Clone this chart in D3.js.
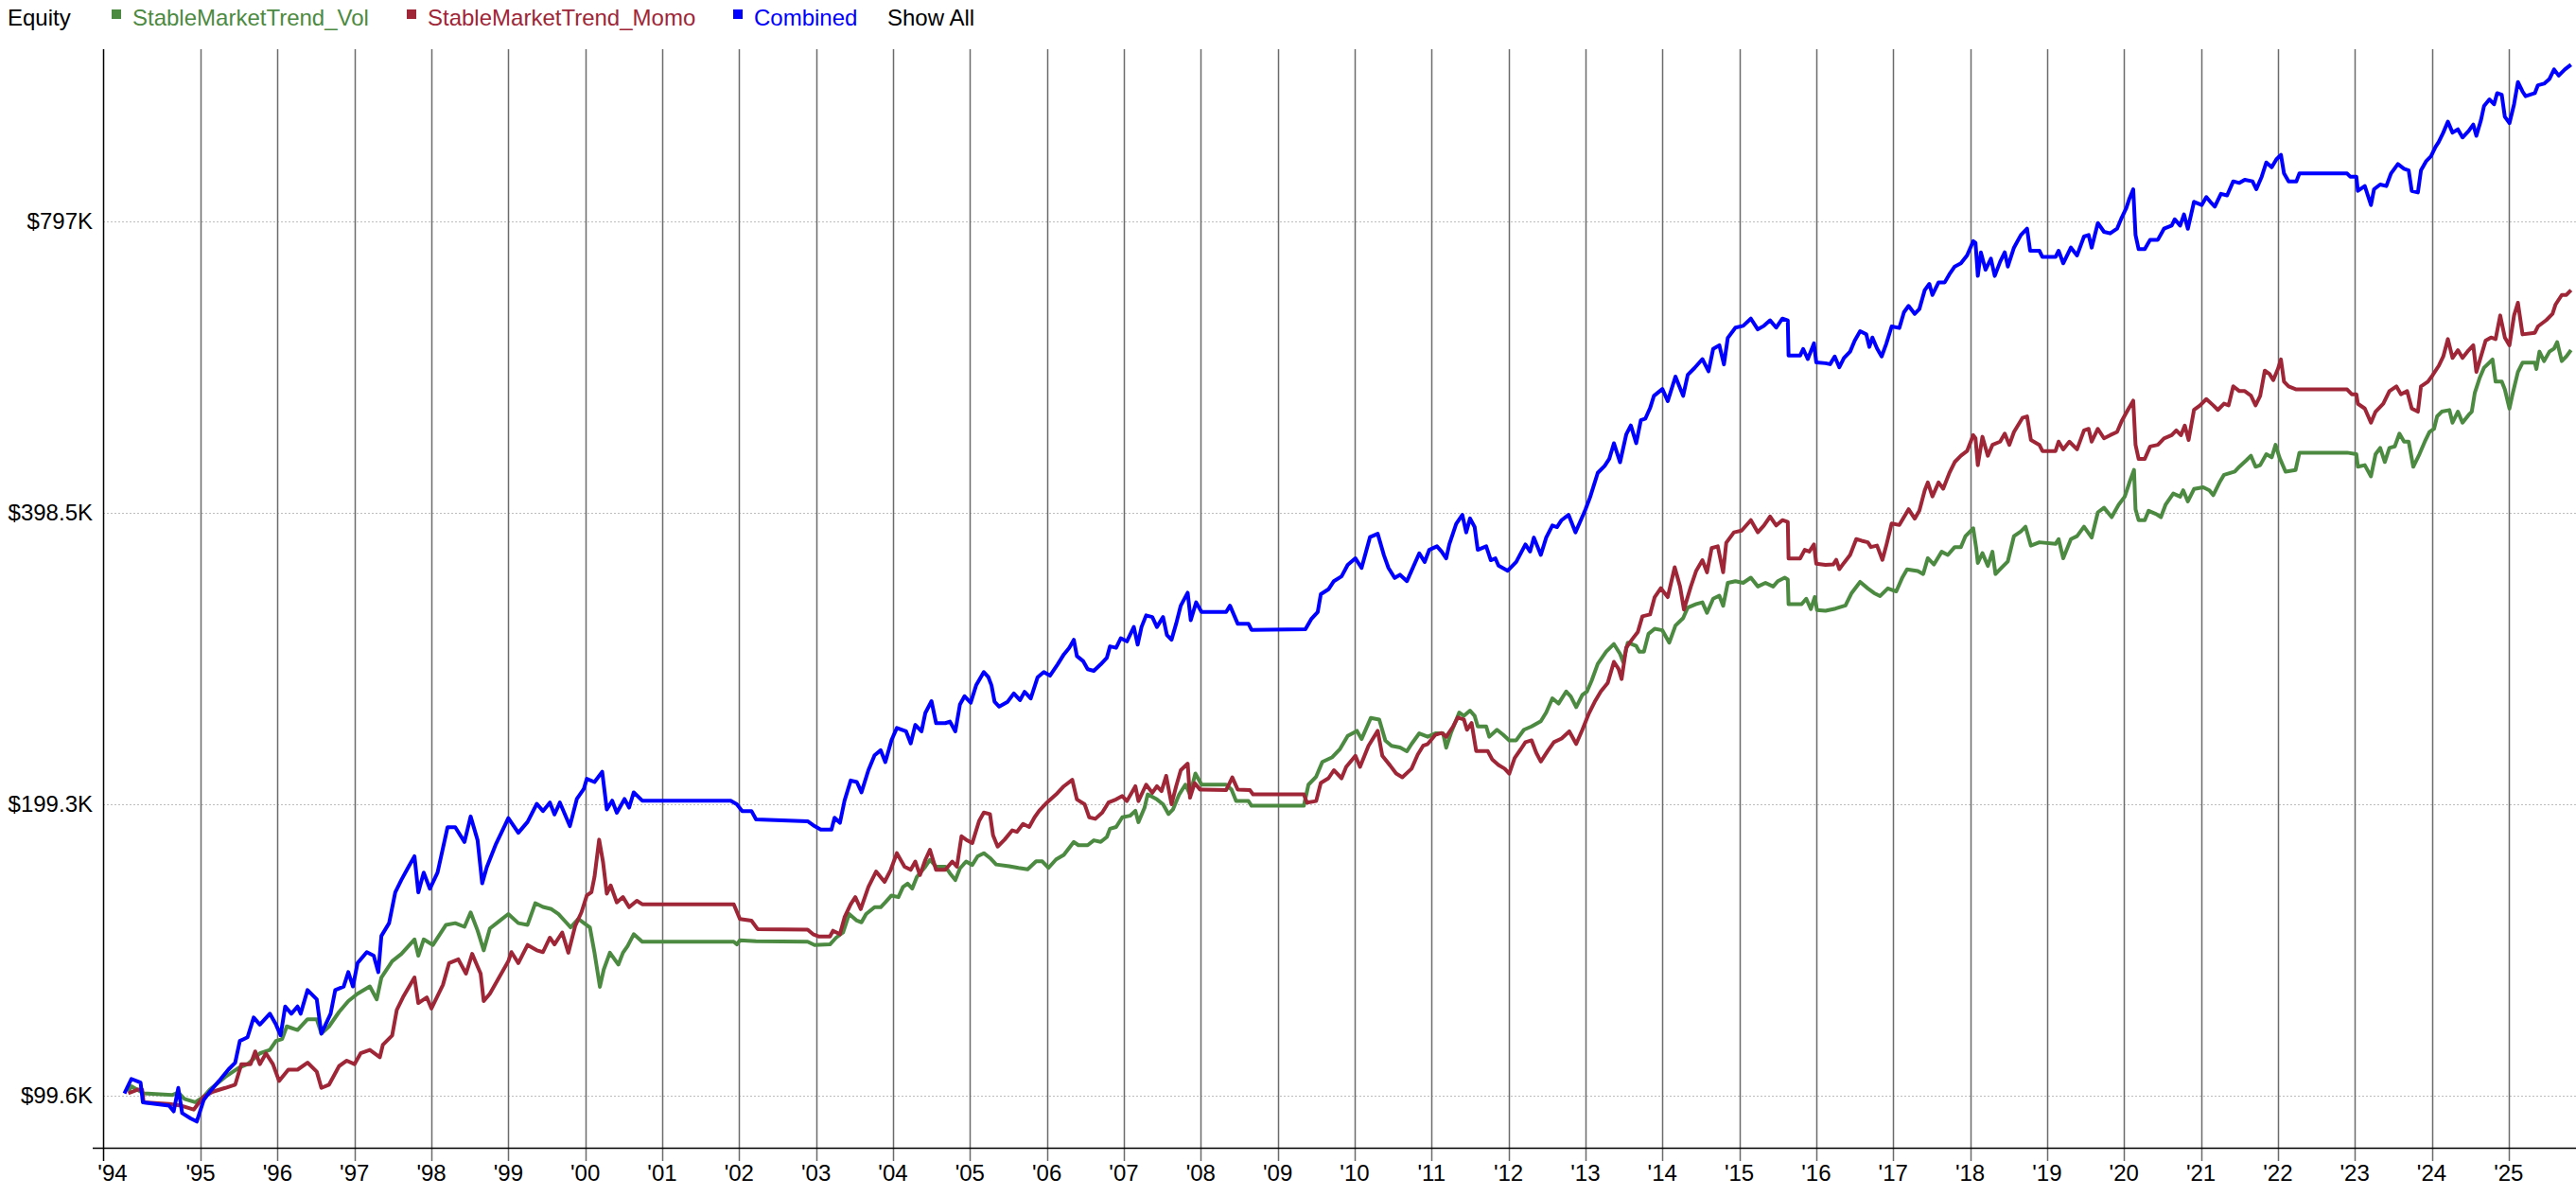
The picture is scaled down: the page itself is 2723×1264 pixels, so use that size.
<!DOCTYPE html>
<html>
<head>
<meta charset="utf-8">
<script src="https://cdn.jsdelivr.net/npm/d3@7"></script>
<style>
  body { margin: 0; background: #fff; }
  svg text { font-family: 'Liberation Sans', Arial, sans-serif; font-size: 24px; }
</style>
</head>
<body>
<script>
/* global d3 */

// equity in $K: [decimal year, value]
const volSeries = [
  [1994.06, 100.6], [1994.10, 101.9], [1994.26, 100.2], [1994.63, 99.8], [1994.71, 100.4], [1994.79, 98.9], [1994.93, 98.1],
  [1995.04, 99.4], [1995.12, 101.1], [1995.32, 104.2], [1995.49, 106.4], [1995.61, 107.4], [1995.77, 110.2], [1995.90, 111.1], [1995.98, 113.5],
  [1996.06, 114.0], [1996.12, 117.5], [1996.26, 116.5], [1996.39, 119.5], [1996.51, 119.5], [1996.57, 115.5], [1996.67, 117.5], [1996.80, 121.6], [1996.92, 124.8],
  [1997.04, 127.0], [1997.20, 129.2], [1997.29, 125.3], [1997.35, 132.0], [1997.49, 137.2], [1997.61, 139.6], [1997.78, 144.5], [1997.83, 139.0], [1997.90, 144.5],
  [1998.02, 142.6], [1998.19, 149.6], [1998.31, 150.2], [1998.43, 148.9], [1998.51, 154.1], [1998.60, 147.6], [1998.68, 140.8], [1998.76, 148.3], [1998.88, 150.9],
  [1999.00, 153.5], [1999.13, 150.2], [1999.25, 149.6], [1999.35, 157.5], [1999.45, 156.1], [1999.56, 155.3], [1999.65, 153.5], [1999.75, 150.5], [1999.81, 148.7], [1999.91, 151.7],
  [2000.00, 149.9], [2000.06, 148.7], [2000.12, 140.0], [2000.19, 129.1], [2000.24, 134.5], [2000.32, 140.0], [2000.43, 136.1], [2000.49, 140.0], [2000.55, 142.2], [2000.63, 146.3], [2000.74, 143.7],
  [2001.93, 143.7], [2001.97, 142.8], [2002.01, 144.2], [2002.22, 143.9], [2002.89, 143.7], [2002.98, 142.6],
  [2003.18, 142.8], [2003.26, 145.1], [2003.35, 146.9], [2003.43, 153.5], [2003.53, 151.1], [2003.59, 150.5], [2003.65, 153.5], [2003.76, 156.0], [2003.84, 156.0], [2003.90, 157.8], [2003.98, 160.4],
  [2004.07, 159.8], [2004.13, 163.7], [2004.19, 165.0], [2004.25, 163.1], [2004.31, 167.7], [2004.42, 171.8], [2004.48, 174.6], [2004.56, 171.8], [2004.68, 171.8], [2004.74, 169.1], [2004.81, 166.4], [2004.87, 171.1], [2004.95, 173.9],
  [2005.03, 172.5], [2005.10, 176.1], [2005.18, 177.4], [2005.26, 175.4], [2005.34, 172.7], [2005.51, 172.0], [2005.63, 171.3], [2005.75, 170.7], [2005.86, 174.0], [2005.94, 174.0],
  [2006.02, 171.3], [2006.12, 174.8], [2006.22, 176.7], [2006.35, 182.2], [2006.41, 180.8], [2006.53, 180.8], [2006.61, 182.9], [2006.70, 182.2], [2006.78, 184.4], [2006.82, 188.0], [2006.90, 188.8], [2006.98, 193.2],
  [2007.08, 193.9], [2007.15, 196.2], [2007.19, 191.0], [2007.27, 197.7], [2007.31, 204.0], [2007.43, 201.6], [2007.51, 199.3], [2007.58, 194.7], [2007.64, 196.9], [2007.72, 204.0], [2007.80, 208.8], [2007.86, 204.0], [2007.93, 214.4],
  [2008.01, 208.8], [2008.33, 208.8], [2008.40, 206.4], [2008.46, 200.8], [2008.62, 200.8], [2008.66, 198.6],
  [2009.34, 198.6], [2009.40, 208.8], [2009.50, 212.8], [2009.58, 220.4], [2009.71, 222.9], [2009.81, 227.3], [2009.91, 234.5],
  [2010.03, 237.3], [2010.09, 232.7], [2010.21, 244.7], [2010.32, 243.7], [2010.40, 231.8], [2010.48, 229.0], [2010.59, 228.1], [2010.68, 226.1], [2010.74, 230.0], [2010.84, 235.9], [2010.95, 234.0],
  [2011.05, 235.9], [2011.15, 235.9], [2011.19, 228.0], [2011.25, 235.9], [2011.36, 247.9], [2011.42, 245.9], [2011.50, 249.0], [2011.56, 245.9], [2011.60, 239.8], [2011.71, 239.8], [2011.75, 234.0], [2011.85, 237.9], [2011.93, 235.1],
  [2012.01, 232.0], [2012.10, 232.0], [2012.20, 237.9], [2012.30, 239.8], [2012.42, 242.8], [2012.49, 247.9], [2012.57, 256.4], [2012.65, 253.2], [2012.75, 260.6], [2012.81, 257.5], [2012.88, 251.1], [2012.96, 258.5],
  [2013.02, 260.6], [2013.08, 267.3], [2013.16, 278.3], [2013.27, 286.5], [2013.37, 291.7], [2013.45, 285.0], [2013.49, 279.5], [2013.55, 292.7], [2013.66, 290.4], [2013.70, 286.5], [2013.76, 286.5], [2013.82, 298.9], [2013.90, 302.5],
  [2014.00, 301.4], [2014.09, 292.7], [2014.17, 304.8], [2014.27, 310.3], [2014.33, 318.2], [2014.44, 320.8], [2014.52, 322.1], [2014.58, 314.2], [2014.66, 324.9], [2014.74, 327.3], [2014.79, 319.5], [2014.85, 337.4], [2014.95, 338.8],
  [2015.05, 337.4], [2015.15, 341.6], [2015.24, 334.5], [2015.34, 337.4], [2015.44, 334.5], [2015.50, 338.8], [2015.59, 341.6], [2015.63, 340.1], [2015.64, 320.8], [2015.81, 320.8], [2015.87, 324.9], [2015.93, 317.0], [2015.98, 326.2],
  [2016.01, 316.3], [2016.12, 315.8], [2016.25, 317.4], [2016.38, 319.8], [2016.46, 329.4], [2016.57, 338.2], [2016.67, 333.0], [2016.75, 329.4], [2016.83, 327.0], [2016.93, 333.0],
  [2017.04, 330.6], [2017.12, 341.9], [2017.18, 348.4], [2017.32, 347.1], [2017.39, 344.6], [2017.45, 357.8], [2017.53, 352.5], [2017.63, 363.3], [2017.71, 360.6], [2017.80, 367.4], [2017.88, 367.4], [2017.94, 377.1],
  [2018.04, 384.2], [2018.08, 366.0], [2018.10, 353.8], [2018.16, 362.1], [2018.23, 351.3], [2018.29, 363.3], [2018.33, 344.6], [2018.41, 349.9], [2018.49, 355.1], [2018.57, 377.1], [2018.66, 381.4], [2018.72, 385.6], [2018.79, 368.7], [2018.90, 371.6],
  [2019.11, 370.2], [2019.15, 374.4], [2019.21, 357.8], [2019.31, 374.4], [2019.39, 377.1], [2019.48, 385.6], [2019.58, 375.8], [2019.66, 399.0], [2019.74, 403.4], [2019.84, 394.5], [2019.93, 406.3],
  [2020.01, 414.2], [2020.07, 428.3], [2020.13, 441.4], [2020.15, 401.9], [2020.19, 391.6], [2020.27, 391.6], [2020.32, 400.5], [2020.42, 397.4], [2020.48, 394.5], [2020.54, 406.3], [2020.64, 417.3], [2020.73, 414.2], [2020.77, 420.5], [2020.83, 409.5], [2020.91, 421.8],
  [2021.03, 423.6], [2021.11, 420.5], [2021.16, 415.7], [2021.24, 428.3], [2021.30, 436.3], [2021.44, 439.7], [2021.50, 444.8], [2021.59, 451.6], [2021.65, 456.5], [2021.71, 444.7], [2021.77, 446.4], [2021.85, 458.2], [2021.92, 454.8], [2021.97, 468.5],
  [2022.02, 454.8], [2022.10, 439.6], [2022.23, 441.3], [2022.28, 459.9], [2022.90, 459.9],
  [2023.02, 458.2], [2023.04, 444.7], [2023.13, 446.4], [2023.21, 434.7], [2023.27, 458.2], [2023.33, 465.1], [2023.39, 449.8], [2023.45, 465.1], [2023.52, 466.8], [2023.58, 481.2], [2023.64, 472.2], [2023.70, 472.2], [2023.76, 444.7], [2023.84, 458.2], [2023.91, 472.2], [2023.97, 483.0],
  [2024.03, 486.7], [2024.07, 501.4], [2024.13, 507.0], [2024.23, 508.9], [2024.27, 493.9], [2024.34, 507.0], [2024.40, 493.9], [2024.48, 503.2], [2024.52, 507.0], [2024.56, 530.4], [2024.62, 548.6], [2024.68, 562.9], [2024.79, 573.9], [2024.83, 544.5], [2024.91, 544.5], [2024.95, 534.5],
  [2025.01, 510.8], [2025.05, 528.4], [2025.12, 557.2], [2025.18, 569.6], [2025.34, 569.6], [2025.36, 561.1], [2025.40, 584.8], [2025.46, 571.8], [2025.53, 584.8], [2025.59, 589.2], [2025.63, 598.2], [2025.69, 571.8], [2025.75, 578.2], [2025.81, 587.0]
]

const momoSeries = [
  [1994.06, 100.2], [1994.18, 101.1], [1994.24, 101.1], [1994.26, 98.1], [1994.59, 97.7], [1994.75, 97.3], [1994.91, 96.4],
  [1995.04, 99.4], [1995.16, 100.6], [1995.32, 101.5], [1995.45, 102.3], [1995.53, 107.4], [1995.65, 107.4], [1995.71, 110.7], [1995.77, 107.4], [1995.85, 110.2], [1995.94, 107.4],
  [1996.02, 103.2], [1996.14, 106.0], [1996.26, 106.0], [1996.39, 107.8], [1996.51, 105.5], [1996.57, 101.5], [1996.67, 102.3], [1996.80, 106.9], [1996.90, 108.3],
  [1997.00, 107.4], [1997.08, 110.2], [1997.20, 111.1], [1997.33, 109.2], [1997.37, 112.5], [1997.49, 115.0], [1997.55, 122.2], [1997.63, 125.9], [1997.78, 132.0], [1997.83, 124.2], [1997.94, 125.9],
  [1998.00, 122.6], [1998.15, 129.7], [1998.23, 136.6], [1998.35, 137.8], [1998.45, 133.2], [1998.53, 139.6], [1998.64, 133.2], [1998.68, 124.8], [1998.76, 127.0], [1998.88, 132.0],
  [1999.00, 137.2], [1999.04, 140.2], [1999.13, 136.6], [1999.25, 142.6], [1999.37, 140.8], [1999.45, 140.2], [1999.54, 145.1], [1999.60, 142.8], [1999.70, 146.9], [1999.78, 140.0], [1999.87, 149.3], [1999.95, 154.1],
  [2000.02, 160.4], [2000.08, 161.7], [2000.12, 167.7], [2000.18, 183.2], [2000.23, 173.9], [2000.28, 161.1], [2000.33, 164.3], [2000.41, 157.8], [2000.49, 159.8], [2000.57, 156.0], [2000.67, 158.4], [2000.74, 157.1],
  [2001.93, 157.1], [2002.01, 151.7], [2002.16, 151.1], [2002.24, 148.1], [2002.89, 147.9], [2002.96, 146.3],
  [2003.04, 145.5], [2003.18, 145.5], [2003.22, 147.5], [2003.31, 146.3], [2003.37, 152.3], [2003.45, 157.1], [2003.51, 159.8], [2003.58, 155.3], [2003.68, 163.7], [2003.78, 169.8], [2003.89, 165.7], [2003.97, 170.5],
  [2004.05, 177.4], [2004.15, 171.8], [2004.23, 170.5], [2004.29, 173.9], [2004.35, 168.4], [2004.42, 174.6], [2004.48, 178.8], [2004.56, 170.5], [2004.68, 170.5], [2004.77, 173.9], [2004.83, 171.8], [2004.89, 184.7], [2004.95, 183.2],
  [2005.03, 181.7], [2005.12, 191.6], [2005.18, 195.4], [2005.26, 194.7], [2005.30, 185.1], [2005.36, 180.2], [2005.45, 183.2], [2005.55, 187.3], [2005.61, 186.6], [2005.69, 190.2], [2005.77, 188.8], [2005.84, 193.2], [2005.90, 196.2],
  [2006.00, 200.1], [2006.12, 204.0], [2006.22, 208.0], [2006.33, 211.2], [2006.39, 201.6], [2006.49, 199.3], [2006.55, 193.2], [2006.63, 192.5], [2006.72, 195.4], [2006.80, 200.1], [2006.90, 201.6], [2006.98, 203.2],
  [2007.04, 200.8], [2007.15, 208.0], [2007.19, 200.8], [2007.29, 208.8], [2007.37, 204.8], [2007.43, 208.0], [2007.49, 205.6], [2007.55, 213.2], [2007.62, 199.3], [2007.68, 208.0], [2007.74, 216.1], [2007.83, 219.5], [2007.86, 202.4], [2007.92, 209.6], [2007.99, 206.4],
  [2008.33, 206.1], [2008.41, 212.4], [2008.48, 206.4], [2008.64, 206.1], [2008.68, 204.0],
  [2009.34, 204.0], [2009.38, 200.1], [2009.50, 200.8], [2009.56, 209.6], [2009.66, 212.0], [2009.73, 216.1], [2009.83, 212.0], [2009.89, 217.8],
  [2010.01, 223.6], [2010.07, 217.8], [2010.18, 229.0], [2010.30, 237.3], [2010.36, 223.6], [2010.46, 218.6], [2010.54, 214.4], [2010.62, 212.5], [2010.74, 216.9], [2010.82, 224.3], [2010.89, 229.0], [2010.95, 230.0],
  [2011.05, 235.1], [2011.13, 236.1], [2011.19, 234.0], [2011.28, 239.8], [2011.34, 244.9], [2011.42, 243.8], [2011.46, 237.9], [2011.52, 241.8], [2011.58, 226.2], [2011.73, 226.2], [2011.79, 221.6], [2011.87, 218.8], [2011.95, 216.9],
  [2012.01, 214.3], [2012.08, 222.5], [2012.16, 227.2], [2012.22, 231.0], [2012.30, 232.0], [2012.36, 225.3], [2012.42, 220.6], [2012.51, 226.2], [2012.59, 231.0], [2012.69, 233.0], [2012.79, 237.0], [2012.88, 230.0], [2012.96, 237.9],
  [2013.04, 246.8], [2013.12, 254.2], [2013.20, 260.6], [2013.29, 266.0], [2013.37, 279.6], [2013.43, 275.0], [2013.47, 268.4], [2013.53, 289.2], [2013.61, 295.2], [2013.68, 300.1], [2013.74, 311.6], [2013.84, 313.0], [2013.90, 326.2], [2013.98, 333.1],
  [2014.07, 326.2], [2014.16, 350.2], [2014.23, 334.5], [2014.28, 316.7], [2014.37, 334.5], [2014.44, 347.3], [2014.52, 356.1], [2014.58, 346.0], [2014.64, 366.5], [2014.72, 368.1], [2014.79, 346.0], [2014.83, 371.2], [2014.93, 380.5],
  [2015.03, 382.1], [2015.15, 391.7], [2015.24, 380.5], [2015.32, 386.8], [2015.40, 395.0], [2015.48, 386.8], [2015.56, 391.7], [2015.63, 390.0], [2015.64, 357.6], [2015.79, 357.6], [2015.85, 365.0], [2015.91, 363.5], [2015.97, 369.7],
  [2016.00, 353.1], [2016.12, 352.2], [2016.22, 352.5], [2016.26, 356.4], [2016.30, 348.6], [2016.36, 353.8], [2016.44, 360.5], [2016.52, 374.4], [2016.59, 373.0], [2016.67, 371.6], [2016.71, 367.4], [2016.79, 368.7], [2016.86, 356.4], [2016.91, 368.7], [2016.98, 388.6],
  [2017.08, 387.2], [2017.14, 394.5], [2017.20, 402.0], [2017.28, 393.1], [2017.34, 400.5], [2017.41, 420.5], [2017.45, 428.4], [2017.51, 414.4], [2017.59, 428.4], [2017.65, 422.1], [2017.73, 438.1], [2017.80, 449.8], [2017.88, 456.5], [2017.96, 461.7],
  [2018.04, 479.4], [2018.07, 475.8], [2018.10, 446.4], [2018.16, 477.6], [2018.23, 456.5], [2018.29, 468.5], [2018.39, 472.1], [2018.45, 481.2], [2018.51, 468.5], [2018.57, 483.1], [2018.68, 499.5], [2018.74, 501.3], [2018.79, 474.0], [2018.90, 468.5], [2018.94, 461.7],
  [2019.11, 461.7], [2019.15, 472.1], [2019.21, 463.5], [2019.29, 472.1], [2019.39, 463.5], [2019.48, 484.9], [2019.54, 486.7], [2019.58, 472.1], [2019.66, 486.7], [2019.74, 475.8], [2019.82, 479.4], [2019.91, 483.1], [2019.97, 495.8],
  [2020.05, 509.1], [2020.12, 520.5], [2020.15, 468.5], [2020.19, 453.1], [2020.27, 453.1], [2020.34, 466.7], [2020.44, 468.5], [2020.52, 475.8], [2020.62, 479.4], [2020.68, 484.9], [2020.74, 479.4], [2020.79, 490.4], [2020.84, 474.0], [2020.91, 509.1], [2020.99, 514.7],
  [2021.07, 522.4], [2021.16, 514.7], [2021.22, 509.1], [2021.30, 516.7], [2021.36, 514.7], [2021.42, 538.5], [2021.50, 532.4], [2021.57, 532.4], [2021.65, 526.7], [2021.71, 514.7], [2021.77, 526.4], [2021.83, 559.0], [2021.89, 554.7], [2021.94, 546.5],
  [2022.00, 561.1], [2022.04, 574.0], [2022.08, 544.5], [2022.14, 538.4], [2022.24, 534.5], [2022.90, 534.5], [2022.96, 528.4],
  [2023.02, 528.4], [2023.04, 516.6], [2023.13, 510.8], [2023.21, 493.9], [2023.27, 507.0], [2023.37, 516.6], [2023.45, 532.4], [2023.54, 538.4], [2023.60, 528.4], [2023.68, 532.4], [2023.74, 510.8], [2023.82, 507.0], [2023.86, 538.4], [2023.95, 544.5],
  [2024.01, 552.7], [2024.09, 565.2], [2024.15, 578.2], [2024.21, 602.5], [2024.27, 576.1], [2024.34, 586.9], [2024.40, 576.1], [2024.48, 586.9], [2024.54, 593.7], [2024.58, 557.2], [2024.64, 578.2], [2024.70, 600.2], [2024.77, 604.8], [2024.83, 602.5], [2024.89, 637.4], [2024.95, 604.8],
  [2025.01, 593.7], [2025.07, 637.4], [2025.12, 656.8], [2025.18, 609.3], [2025.34, 611.6], [2025.38, 620.9], [2025.49, 630.4], [2025.57, 639.8], [2025.61, 654.3], [2025.69, 669.2], [2025.75, 669.2], [2025.81, 676.9]
]

const combinedSeries = [
  [1994.01, 100.2], [1994.10, 103.7], [1994.22, 102.8], [1994.25, 98.1], [1994.42, 97.7], [1994.59, 97.3], [1994.65, 96.0], [1994.71, 101.5], [1994.76, 95.6], [1994.87, 94.4], [1994.95, 93.7],
  [1995.04, 98.6], [1995.12, 100.6], [1995.24, 103.2], [1995.36, 106.0], [1995.45, 107.8], [1995.51, 113.5], [1995.61, 114.5], [1995.69, 120.0], [1995.77, 118.0], [1995.90, 121.1], [1995.98, 118.0],
  [1996.04, 115.0], [1996.10, 123.2], [1996.18, 121.1], [1996.26, 123.2], [1996.30, 121.1], [1996.39, 128.1], [1996.51, 125.3], [1996.57, 115.5], [1996.69, 121.1], [1996.75, 128.1], [1996.86, 129.2], [1996.92, 133.7], [1996.98, 129.2],
  [1997.04, 136.6], [1997.16, 140.2], [1997.25, 139.0], [1997.31, 133.7], [1997.35, 145.7], [1997.45, 150.2], [1997.53, 161.6], [1997.61, 166.5], [1997.70, 171.6], [1997.78, 176.1], [1997.83, 161.6], [1997.90, 169.4], [1997.98, 163.0],
  [1998.08, 169.4], [1998.21, 188.7], [1998.31, 188.7], [1998.43, 182.2], [1998.51, 193.6], [1998.60, 183.0], [1998.66, 165.1], [1998.72, 171.6], [1998.84, 181.4],
  [1999.00, 192.8], [1999.13, 186.2], [1999.25, 191.1], [1999.37, 199.5], [1999.45, 196.1], [1999.54, 200.1], [1999.60, 194.5], [1999.67, 200.1], [1999.80, 189.2], [1999.89, 201.8], [1999.98, 206.6],
  [2000.02, 211.7], [2000.12, 210.1], [2000.22, 215.3], [2000.28, 196.8], [2000.35, 201.0], [2000.41, 195.3], [2000.51, 201.8], [2000.57, 197.7], [2000.63, 205.0], [2000.74, 201.0],
  [2001.89, 201.0], [2001.97, 199.3], [2002.04, 196.1], [2002.16, 196.1], [2002.22, 192.2], [2002.89, 191.4], [2002.98, 189.2],
  [2003.06, 187.6], [2003.20, 187.6], [2003.24, 193.0], [2003.31, 190.7], [2003.37, 201.0], [2003.45, 210.9], [2003.53, 210.1], [2003.59, 205.0], [2003.68, 216.1], [2003.76, 223.9], [2003.84, 226.6], [2003.90, 220.3], [2003.98, 232.1],
  [2004.05, 238.9], [2004.17, 237.0], [2004.23, 230.3], [2004.29, 240.7], [2004.37, 237.0], [2004.42, 247.6], [2004.50, 254.7], [2004.56, 241.7], [2004.68, 241.7], [2004.74, 242.6], [2004.81, 237.0], [2004.87, 252.7], [2004.93, 257.7],
  [2005.01, 253.7], [2005.08, 264.4], [2005.18, 272.9], [2005.24, 269.6], [2005.28, 264.4], [2005.32, 254.3], [2005.38, 251.4], [2005.49, 254.3], [2005.57, 259.4], [2005.65, 255.3], [2005.71, 260.4], [2005.79, 256.3], [2005.88, 269.6], [2005.96, 272.9],
  [2006.04, 270.6], [2006.14, 278.0], [2006.22, 284.6], [2006.29, 289.1], [2006.35, 294.7], [2006.39, 283.5], [2006.47, 280.2], [2006.53, 274.8], [2006.61, 273.7], [2006.70, 278.0], [2006.78, 282.4], [2006.82, 290.1], [2006.90, 289.1], [2006.96, 295.8],
  [2007.04, 293.6], [2007.13, 303.8], [2007.18, 291.3], [2007.23, 303.8], [2007.29, 312.3], [2007.37, 311.1], [2007.43, 303.8], [2007.51, 311.1], [2007.56, 298.1], [2007.62, 294.7], [2007.68, 306.2], [2007.74, 319.6], [2007.83, 329.6], [2007.87, 308.7], [2007.94, 322.1],
  [2008.01, 314.8], [2008.33, 314.8], [2008.38, 319.6], [2008.48, 306.2], [2008.62, 306.2], [2008.66, 301.7],
  [2009.36, 302.2], [2009.44, 309.9], [2009.52, 314.8], [2009.56, 328.4], [2009.66, 332.3], [2009.73, 338.8], [2009.83, 342.7], [2009.91, 352.2],
  [2010.01, 357.7], [2010.09, 349.6], [2010.20, 376.2], [2010.30, 379.2], [2010.38, 360.5], [2010.44, 349.6], [2010.52, 341.4], [2010.59, 344.0], [2010.68, 338.8], [2010.74, 347.3], [2010.84, 362.0], [2010.91, 354.6], [2010.97, 365.0],
  [2011.07, 368.1], [2011.13, 363.5], [2011.19, 357.6], [2011.23, 369.7], [2011.32, 388.3], [2011.40, 396.7], [2011.45, 380.5], [2011.50, 393.3], [2011.56, 385.3], [2011.60, 365.0], [2011.71, 368.1], [2011.77, 356.1], [2011.83, 357.6], [2011.87, 351.6], [2011.99, 347.3],
  [2012.10, 354.6], [2012.22, 369.7], [2012.28, 363.5], [2012.33, 375.8], [2012.42, 360.6], [2012.49, 375.8], [2012.57, 386.8], [2012.63, 385.3], [2012.69, 391.7], [2012.78, 396.7], [2012.87, 380.5], [2012.94, 391.7],
  [2013.00, 401.7], [2013.06, 413.5], [2013.16, 438.3], [2013.25, 445.7], [2013.31, 453.2], [2013.37, 470.3], [2013.45, 449.5], [2013.53, 480.2], [2013.59, 490.6], [2013.66, 470.3], [2013.72, 496.7], [2013.78, 498.8], [2013.84, 511.3], [2013.89, 526.4],
  [2014.00, 535.0], [2014.07, 520.0], [2014.17, 551.1], [2014.27, 526.4], [2014.33, 553.5], [2014.42, 562.7], [2014.52, 574.5], [2014.60, 558.1], [2014.66, 588.6], [2014.74, 593.8], [2014.80, 567.3], [2014.85, 604.2], [2014.95, 619.2],
  [2015.05, 621.8], [2015.15, 632.6], [2015.24, 616.6], [2015.32, 621.8], [2015.40, 629.9], [2015.48, 619.2], [2015.56, 632.6], [2015.63, 629.9], [2015.64, 579.3], [2015.79, 579.3], [2015.83, 588.6], [2015.89, 574.5], [2015.97, 596.4],
  [2016.00, 569.9], [2016.12, 568.9], [2016.18, 567.6], [2016.24, 578.1], [2016.30, 563.4], [2016.36, 576.0], [2016.44, 584.8], [2016.50, 600.3], [2016.57, 614.0], [2016.65, 609.4], [2016.69, 591.4], [2016.73, 604.8], [2016.79, 589.2], [2016.85, 578.1], [2016.91, 595.8], [2016.98, 620.9],
  [2017.08, 618.6], [2017.14, 642.2], [2017.20, 652.0], [2017.28, 639.8], [2017.34, 647.1], [2017.41, 676.9], [2017.47, 687.1], [2017.51, 669.2], [2017.59, 689.6], [2017.67, 689.6], [2017.73, 702.9], [2017.80, 716.0], [2017.88, 721.5], [2017.96, 735.2],
  [2018.04, 760.4], [2018.07, 757.6], [2018.10, 700.2], [2018.14, 740.6], [2018.20, 710.6], [2018.27, 729.6], [2018.32, 700.2], [2018.39, 724.2], [2018.45, 740.6], [2018.49, 716.0], [2018.57, 749.0], [2018.66, 771.8], [2018.74, 783.4], [2018.78, 743.4], [2018.90, 743.4], [2018.94, 732.4],
  [2019.11, 732.4], [2019.15, 743.4], [2019.21, 721.5], [2019.31, 749.0], [2019.39, 735.2], [2019.48, 768.9], [2019.54, 771.8], [2019.58, 749.0], [2019.66, 794.1], [2019.74, 777.6], [2019.82, 774.7], [2019.91, 783.4], [2019.97, 804.2],
  [2020.03, 822.7], [2020.07, 841.5], [2020.12, 860.4], [2020.15, 771.8], [2020.19, 746.2], [2020.27, 746.2], [2020.34, 763.1], [2020.44, 763.1], [2020.52, 783.4], [2020.62, 789.3], [2020.66, 801.2], [2020.73, 789.3], [2020.78, 810.4], [2020.83, 783.4], [2020.91, 835.1],
  [2021.01, 828.8], [2021.07, 844.7], [2021.14, 832.0], [2021.18, 825.6], [2021.26, 851.2], [2021.34, 847.9], [2021.42, 876.8], [2021.50, 873.5], [2021.57, 880.1], [2021.67, 876.8], [2021.72, 860.5], [2021.79, 886.7], [2021.85, 917.0], [2021.92, 906.7], [2021.98, 923.8],
  [2022.04, 933.9], [2022.08, 893.4], [2022.14, 876.8], [2022.24, 876.8], [2022.28, 893.4], [2022.90, 893.4], [2022.94, 886.7],
  [2023.02, 886.7], [2023.04, 857.2], [2023.13, 867.0], [2023.21, 828.7], [2023.25, 860.5], [2023.33, 870.3], [2023.41, 867.0], [2023.47, 893.4], [2023.56, 913.6], [2023.64, 903.4], [2023.70, 900.0], [2023.74, 857.2], [2023.82, 854.0], [2023.86, 900.0], [2023.93, 920.4], [2023.99, 930.6],
  [2024.05, 952.1], [2024.09, 962.8], [2024.15, 984.6], [2024.21, 1010.5], [2024.27, 984.6], [2024.34, 992.2], [2024.40, 973.3], [2024.48, 988.4], [2024.54, 1003.5], [2024.58, 977.1], [2024.64, 1014.4], [2024.68, 1049.1], [2024.75, 1065.4], [2024.81, 1053.2], [2024.85, 1081.4], [2024.91, 1077.3], [2024.95, 1022.3],
  [2025.01, 1006.9], [2025.07, 1053.2], [2025.12, 1110.3], [2025.18, 1085.6], [2025.22, 1073.6], [2025.34, 1081.4], [2025.38, 1102.0], [2025.46, 1106.1], [2025.53, 1118.5], [2025.59, 1144.2], [2025.65, 1127.6], [2025.73, 1144.2], [2025.81, 1157.3]
]

const seriesNames = ['StableMarketTrend_Vol', 'StableMarketTrend_Momo', 'Combined']
const seriesColors = ['#4c8a41', '#9e2637', '#0000ff']

const yearTicks = [1994, 1995, 1996, 1997, 1998, 1999, 2000, 2001, 2002, 2003, 2004, 2005, 2006, 2007, 2008, 2009,
  2010, 2011, 2012, 2013, 2014, 2015, 2016, 2017, 2018, 2019, 2020, 2021, 2022, 2023, 2024, 2025]
const equityTicks = [99.63, 199.26, 398.52, 797.04]
const equityTickLabels = ['$99.6K', '$199.3K', '$398.5K', '$797K']

const width = 2723
const height = 1264
const margin = { top: 52, right: 0, bottom: 51, left: 109 }
const plotBottom = height - margin.bottom

const x = d3.scaleLinear()
  .domain([1993.733, 2025.875])
  .range([margin.left, width - margin.right])

const y = d3.scaleLog()
  .base(2)
  .domain([88.04, 1200.6])
  .range([plotBottom, margin.top])

const svg = d3.select('body').append('svg')
  .attr('width', width)
  .attr('height', height)

// horizontal dotted grid
svg.append('g')
  .selectAll('line')
  .data(equityTicks)
  .enter().append('line')
  .attr('x1', margin.left)
  .attr('x2', width)
  .attr('y1', function (d) { return Math.round(y(d)) + 0.5 })
  .attr('y2', function (d) { return Math.round(y(d)) + 0.5 })
  .attr('stroke', '#bdbdbd')
  .attr('stroke-dasharray', '2,2')

// first tick sits on the left edge of the axis
function tickX (d) { return d === yearTicks[0] ? x.range()[0] : x(d) }

// vertical year lines
svg.append('g')
  .selectAll('line')
  .data(yearTicks.slice(1))
  .enter().append('line')
  .attr('x1', function (d) { return Math.round(x(d)) + 0.5 })
  .attr('x2', function (d) { return Math.round(x(d)) + 0.5 })
  .attr('y1', margin.top)
  .attr('y2', plotBottom + 14)
  .attr('stroke', '#6b6b6b')
  .attr('stroke-width', 1.5)

// axes
svg.append('line')
  .attr('x1', margin.left - 11).attr('x2', width)
  .attr('y1', plotBottom + 0.5).attr('y2', plotBottom + 0.5)
  .attr('stroke', '#000').attr('stroke-width', 1.5)

svg.append('line')
  .attr('x1', margin.left + 0.5).attr('x2', margin.left + 0.5)
  .attr('y1', margin.top).attr('y2', plotBottom + 14)
  .attr('stroke', '#000').attr('stroke-width', 1.5)

svg.append('g')
  .selectAll('text')
  .data(yearTicks)
  .enter().append('text')
  .attr('x', function (d, i) { return i === 0 ? tickX(d) + 10 : tickX(d) })
  .attr('y', plotBottom + 35)
  .attr('text-anchor', 'middle')
  .attr('fill', '#000')
  .text(function (d) { return "'" + String(d).slice(2) })

svg.append('g')
  .selectAll('text')
  .data(equityTicks)
  .enter().append('text')
  .attr('x', margin.left - 11)
  .attr('y', function (d) { return y(d) })
  .attr('dy', '0.35em')
  .attr('text-anchor', 'end')
  .attr('fill', '#000')
  .text(function (d, i) { return equityTickLabels[i] })

// equity lines
const line = d3.line()
  .x(function (d) { return x(d[0]) })
  .y(function (d) { return y(d[1]) })

const allSeries = [volSeries, momoSeries, combinedSeries]

svg.append('g')
  .selectAll('path')
  .data(allSeries)
  .enter().append('path')
  .attr('d', line)
  .attr('fill', 'none')
  .attr('stroke', function (d, i) { return seriesColors[i] })
  .attr('stroke-width', 4)
  .attr('stroke-linejoin', 'round')

// legend
const legend = svg.append('g')
legend.append('text').attr('x', 8).attr('y', 27).attr('fill', '#000').text('Equity')

const legendX = [118, 430, 775]
seriesNames.forEach(function (name, i) {
  legend.append('rect')
    .attr('x', legendX[i]).attr('y', 10)
    .attr('width', 10).attr('height', 10)
    .attr('fill', seriesColors[i])
  legend.append('text')
    .attr('x', legendX[i] + 22).attr('y', 27)
    .attr('fill', seriesColors[i])
    .text(name)
})
legend.append('text').attr('x', 938).attr('y', 27).attr('fill', '#000').text('Show All')
</script>
</body>
</html>
